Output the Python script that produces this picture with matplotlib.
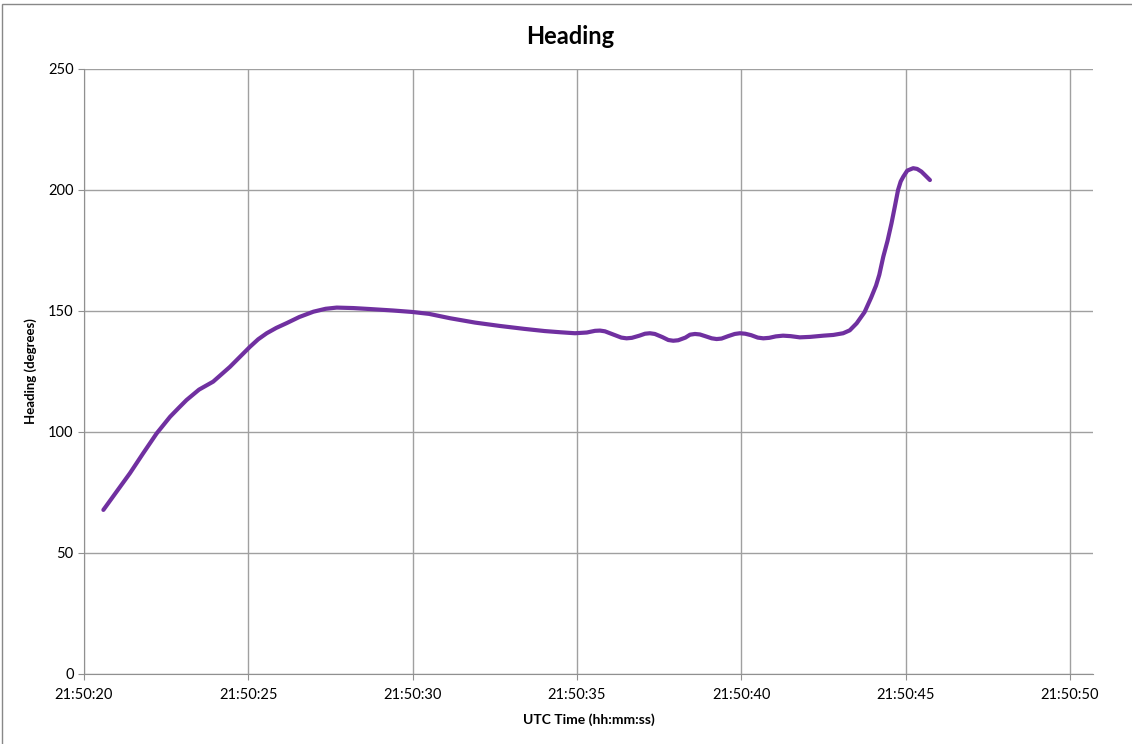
import pandas as pd
import matplotlib.pyplot as plt
import matplotlib.dates as mdates
from matplotlib.patches import Rectangle

# Heading samples (seconds after 21:50:00, degrees)
seconds = [20.59, 21.0, 21.4, 21.8, 22.21, 22.62, 22.9, 23.12, 23.5, 23.93,
           24.44, 25.05, 25.3, 25.56, 25.85, 26.17, 26.55, 26.98, 27.35, 27.69,
           28.2, 28.7, 29.4, 29.98, 30.5, 31.14, 31.9, 32.66, 33.4, 34.02,
           34.5, 34.94, 35.3, 35.55, 35.7, 35.85, 36.1, 36.35, 36.51, 36.67,
           36.9, 37.07, 37.22, 37.37, 37.6, 37.78, 37.93, 38.08, 38.3, 38.44,
           38.59, 38.74, 38.9, 39.1, 39.25, 39.4, 39.6, 39.8, 39.96, 40.12,
           40.3, 40.5, 40.67, 40.85, 41.05, 41.27, 41.5, 41.78, 42.1, 42.5,
           42.8, 43.1, 43.3, 43.51, 43.75, 43.95, 44.1, 44.2, 44.32, 44.45,
           44.57, 44.67, 44.77, 44.85, 44.93, 45.05, 45.23, 45.35, 45.48, 45.6,
           45.74]
heading = [67.8, 75.5, 83.0, 91.2, 99.4, 106.3, 110.2, 113.2, 117.5, 120.8,
           126.9, 135.2, 138.3, 140.8, 143.0, 145.0, 147.5, 149.7, 150.9, 151.4,
           151.2, 150.8, 150.2, 149.6, 148.8, 147, 145.2, 143.8, 142.6, 141.7,
           141.2, 140.8, 141.1, 141.8, 141.9, 141.6, 140.3, 139.0, 138.7, 138.9,
           139.8, 140.6, 140.8, 140.5, 139.2, 138.0, 137.7, 137.9, 139.0, 140.2,
           140.5, 140.3, 139.6, 138.7, 138.4, 138.6, 139.6, 140.5, 140.8, 140.6,
           140.0, 139.0, 138.7, 138.9, 139.5, 139.8, 139.6, 139.1, 139.3, 139.8,
           140.1, 140.8, 142.0, 144.9, 149.5, 155.5, 160.5, 165.0, 172.4, 179.0,
           186.2, 193.0, 200.0, 203.5, 205.5, 208.0, 209.0, 208.7, 207.6, 206.0,
           204.1]
tick_seconds = [20, 25, 30, 35, 40, 45, 50]

base = pd.Timestamp('2000-01-01 21:50:00')
times = [base + pd.Timedelta(seconds=s) for s in seconds]

plt.rcParams['font.family'] = ['Lato', 'DejaVu Sans']

fig = plt.figure(figsize=(11.32, 7.44), dpi=100)
ax = fig.add_axes([0.0742, 0.0941, 0.8913, 0.8132])

ax.plot(times, heading, color='#7030A0', linewidth=3,
        solid_capstyle='round', solid_joinstyle='round')

ax.set_xlim(base + pd.Timedelta(seconds=20), base + pd.Timedelta(seconds=50.7))
ax.set_ylim(0, 250)
ax.set_xticks([base + pd.Timedelta(seconds=s) for s in tick_seconds])
ax.xaxis.set_major_formatter(mdates.DateFormatter('%H:%M:%S'))
ax.set_yticks(range(0, 251, 50))

ax.grid(True, color='#a0a0a0', linewidth=1)
ax.set_axisbelow(True)
for side in ['top', 'right']:
    ax.spines[side].set_visible(False)
for side in ['left', 'bottom']:
    ax.spines[side].set_color('#909090')
ax.tick_params(axis='both', colors='#909090', labelcolor='black', labelsize=10.5, length=4)
ax.tick_params(axis='x', pad=6)

fig.suptitle('Heading', x=0.504, y=0.967, fontsize=17, fontweight='bold')
ax.set_xlabel('UTC Time (hh:mm:ss)', fontsize=10, fontweight='bold', labelpad=8)
ax.set_ylabel('Heading (degrees)', fontsize=9.5, fontweight='bold', labelpad=8)

# outer chart-area frame
fig.patches.append(Rectangle((0.002, -0.01), 1.2, 1.005, transform=fig.transFigure,
                             fill=False, edgecolor='#888888', linewidth=1))

fig.savefig('out.png', dpi=100)
